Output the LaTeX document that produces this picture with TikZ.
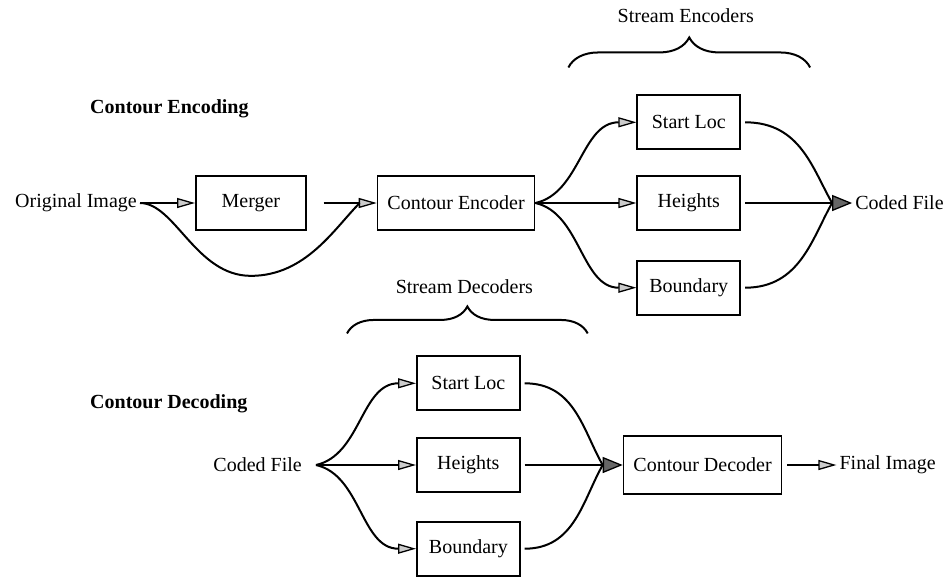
\documentclass[tikz,border=0pt]{standalone}
\usepackage{fontspec}
\setmainfont{Liberation Serif}
\usetikzlibrary{arrows.meta,positioning,decorations.pathreplacing}
\tikzset{
    box/.style={rectangle, draw, line width=1.7pt,
        minimum height=54pt, inner xsep=2pt, font=\fontsize{20}{24}\selectfont},
    sbox/.style={box, minimum width=103pt},
    lbl/.style={inner xsep=3pt, inner ysep=0pt, font=\fontsize{20}{24}\selectfont},
    head/.style={inner sep=0pt, font=\fontsize{20}{24}\selectfont\bfseries},
    wire/.style={line width=2pt},
    arrow/.style={wire, -{Triangle[length=18pt,width=10pt,fill=black!20,line width=1.3pt]}},
    marrow/.style={wire, -{Triangle[length=20pt,width=16pt,fill=black!60,line width=1.3pt]}},
    curly/.style={decorate, decoration={brace, amplitude=#1}, line width=2pt}
}
\begin{document}
\begin{tikzpicture}[x=1pt,y=1pt]
    \useasboundingbox (0,0) rectangle (944,-576);
    % encoding
    \node[head, anchor=west] (enchead) at (90,-109) {Contour Encoding};
    \node[lbl, anchor=east] (orig) at (140,-203) {Original Image};
    \node[box, minimum width=110pt] (merger) [right=55pt of orig] {Merger};
    \node[box, minimum width=157pt] (enc) [right=70pt of merger] {Contour Encoder};
    \node[sbox] (heightsE) [right=101pt of enc] {Heights};
    \node[sbox] (startE) [above=25pt of heightsE] {Start Loc};
    \node[sbox] (boundE) [below=29pt of heightsE] {Boundary};
    \node[lbl] (codedE) [right=111pt of heightsE] {Coded File};
    \draw[curly=30pt] ([xshift=-68pt,yshift=27pt]startE.north west)
        -- ([xshift=69pt,yshift=27pt]startE.north east);
    \node[lbl] (encoders) at ([xshift=-3pt,yshift=79pt]startE.north) {Stream Encoders};
    \path (orig) edge[arrow] (merger);
    \draw[arrow] ([xshift=17pt]merger.east) -- (enc.west);
    \draw[wire] (orig.east) .. controls +(35,0) and +(-55,0) .. ([yshift=-45pt]merger.south)
        .. controls +(55,0) and +(-25,-25) .. ([xshift=-17pt]enc.west);
    \draw[arrow] (enc.east) -- (heightsE.west);
    \draw[arrow] (enc.east) .. controls +(45,10) and +(-55,0) .. (startE.west);
    \draw[arrow] (enc.east) .. controls +(45,-10) and +(-55,0) .. (boundE.west);
    \draw[marrow] ([xshift=4pt]heightsE.east) -- (codedE.west);
    \draw[wire] ([xshift=4pt]startE.east) .. controls +(55,0) and +(-20,35) .. ([xshift=-20pt]codedE.west);
    \draw[wire] ([xshift=4pt]boundE.east) .. controls +(55,0) and +(-20,-35) .. ([xshift=-20pt]codedE.west);
    % decoding
    \node[head, anchor=west] (dechead) at (90,-404) {Contour Decoding};
    \node[lbl, anchor=east] (codedD) at (305,-465) {Coded File};
    \coordinate (forkD) at ([xshift=11pt]codedD.east);
    \node[sbox] (heightsD) [right=111pt of codedD] {Heights};
    \node[sbox] (startD) [above=26pt of heightsD] {Start Loc};
    \node[sbox] (boundD) [below=28pt of heightsD] {Boundary};
    \node[box, minimum width=158pt, minimum height=58pt] (dec) [right=102pt of heightsD] {Contour Decoder};
    \node[lbl] (final) [right=54pt of dec] {Final Image};
    \draw[curly=27pt] ([xshift=-69pt,yshift=22pt]startD.north west)
        -- ([xshift=67pt,yshift=22pt]startD.north east);
    \node[lbl] (decoders) at ([xshift=-4pt,yshift=69pt]startD.north) {Stream Decoders};
    \draw[arrow] (forkD) -- (heightsD.west);
    \draw[arrow] (forkD) .. controls +(45,10) and +(-55,0) .. (startD.west);
    \draw[arrow] (forkD) .. controls +(45,-10) and +(-55,0) .. (boundD.west);
    \draw[marrow] ([xshift=4pt]heightsD.east) -- (dec.west);
    \draw[wire] ([xshift=4pt]startD.east) .. controls +(50,0) and +(-20,35) .. ([xshift=-20pt]dec.west);
    \draw[wire] ([xshift=4pt]boundD.east) .. controls +(50,0) and +(-20,-35) .. ([xshift=-20pt]dec.west);
    \draw[arrow] ([xshift=5pt]dec.east) -- (final.west);
\end{tikzpicture}
\end{document}
